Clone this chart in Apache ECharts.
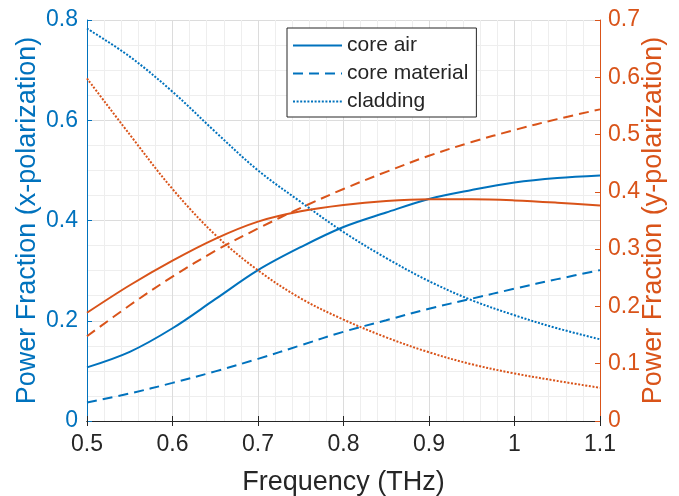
<!DOCTYPE html>
<html>
<head>
<meta charset="utf-8">
<script src="https://cdn.jsdelivr.net/npm/echarts@6/dist/echarts.min.js"></script>
<style>
html,body{margin:0;padding:0;background:#fff;}
#chart{width:679px;height:496px;}
</style>
</head>
<body>
<div id="chart"></div>
<script>
// Frequency (THz)
const freq = [0.5, 0.55, 0.6, 0.65, 0.7, 0.75, 0.8, 0.85, 0.9, 0.95, 1.0, 1.05, 1.1];
// x-polarization (left axis)
const xCoreAir      = [0.107, 0.138, 0.185, 0.243, 0.301, 0.347, 0.387, 0.416, 0.443, 0.461, 0.476, 0.485, 0.490];
const xCoreMaterial = [0.037, 0.055, 0.076, 0.099, 0.124, 0.151, 0.178, 0.201, 0.224, 0.244, 0.264, 0.283, 0.301];
const xCladding     = [0.783, 0.727, 0.657, 0.577, 0.500, 0.437, 0.377, 0.325, 0.279, 0.241, 0.211, 0.185, 0.163];
// y-polarization (right axis)
const yCoreAir      = [0.189, 0.237, 0.280, 0.318, 0.348, 0.366, 0.377, 0.384, 0.387, 0.387, 0.385, 0.381, 0.376];
const yCoreMaterial = [0.148, 0.202, 0.252, 0.297, 0.336, 0.372, 0.405, 0.435, 0.463, 0.487, 0.508, 0.527, 0.544];
const yCladding     = [0.598, 0.500, 0.405, 0.325, 0.263, 0.214, 0.177, 0.146, 0.120, 0.099, 0.083, 0.070, 0.058];

const legendNames = ['core air', 'core material', 'cladding'];

const BLUE = '#0072BD';
const ORANGE = '#D95319';
const DARK = '#262626';
const FONT = '"Liberation Sans", Arial, sans-serif';

const pairs = arr => freq.map((f, i) => [f, arr[i]]);
const fmt = v => String(+(+v).toFixed(2));

const dashStyles = {
  solid: 'solid',
  dashed: [10, 6],
  dotted: [2, 1.6]
};

function mkSeries(name, arr, color, dash, yIdx) {
  return {
    name: name,
    type: 'line',
    xAxisIndex: 0,
    yAxisIndex: yIdx,
    data: pairs(arr),
    smooth: 0.35,
    symbol: 'none',
    showSymbol: false,
    lineStyle: { color: color, width: 2, type: dashStyles[dash] },
    itemStyle: { color: color },
    z: 3
  };
}

const chart = echarts.init(document.getElementById('chart'), null, { renderer: 'canvas' });

const option = {
  animation: false,
  backgroundColor: '#fff',
  textStyle: { fontFamily: FONT },
  grid: { left: 87, right: 79, top: 20, bottom: 75, containLabel: false, outerBoundsMode: 'none' },
  legend: {
    data: legendNames,
    orient: 'vertical',
    left: 287,
    top: 28,
    itemWidth: 49,
    itemHeight: 14,
    itemGap: 7,
    padding: [7, 8, 5, 5],
    borderColor: DARK,
    borderWidth: 1,
    borderRadius: 0,
    backgroundColor: '#fff',
    itemStyle: { opacity: 0 },
    textStyle: { fontFamily: FONT, fontSize: 21, color: DARK },
    selectedMode: false
  },
  xAxis: [
    {
      type: 'value',
      position: 'bottom',
      min: 0.5, max: 1.1, interval: 0.1,
      name: 'Frequency (THz)',
      nameLocation: 'middle',
      nameGap: 48,
      nameTextStyle: { fontSize: 27, color: DARK, fontFamily: FONT },
      axisLine: { show: true, lineStyle: { color: DARK, width: 1 } },
      axisTick: { show: true, inside: true, length: 5, lineStyle: { color: DARK } },
      axisLabel: { fontSize: 23, color: DARK, margin: 12, formatter: fmt, fontFamily: FONT },
      splitLine: { show: true, lineStyle: { color: '#dcdcdc', width: 1 } },
      minorTick: { show: false, splitNumber: 5 },
      minorSplitLine: { show: true, lineStyle: { color: '#eeeeee', width: 1 } }
    },
    {
      type: 'value',
      position: 'top',
      min: 0.5, max: 1.1, interval: 0.1,
      axisLine: { show: true, lineStyle: { color: DARK, width: 1 } },
      axisTick: { show: true, inside: true, length: 5, lineStyle: { color: DARK } },
      axisLabel: { show: false },
      splitLine: { show: false }
    }
  ],
  yAxis: [
    {
      type: 'value',
      position: 'left',
      min: 0, max: 0.8, interval: 0.2,
      name: 'Power Fraction (x-polarization)',
      nameLocation: 'middle',
      nameGap: 46,
      nameMoveOverlap: false,
      nameTextStyle: { fontSize: 27, color: BLUE, fontFamily: FONT },
      axisLine: { show: true, lineStyle: { color: BLUE, width: 1 } },
      axisTick: { show: true, inside: true, length: 5, lineStyle: { color: BLUE } },
      axisLabel: { fontSize: 23, color: BLUE, margin: 9, formatter: fmt, fontFamily: FONT },
      splitLine: { show: true, lineStyle: { color: '#dcdcdc', width: 1 } },
      minorTick: { show: false, splitNumber: 4 },
      minorSplitLine: { show: true, lineStyle: { color: '#eeeeee', width: 1 } }
    },
    {
      type: 'value',
      position: 'right',
      min: 0, max: 0.7, interval: 0.1,
      name: 'Power Fraction (y-polarization)',
      nameLocation: 'middle',
      nameGap: 40,
      nameMoveOverlap: false,
      nameRotate: 90,
      nameTextStyle: { fontSize: 27, color: ORANGE, fontFamily: FONT },
      axisLine: { show: true, lineStyle: { color: ORANGE, width: 1 } },
      axisTick: { show: true, inside: true, length: 5, lineStyle: { color: ORANGE } },
      axisLabel: { fontSize: 23, color: ORANGE, margin: 8, formatter: fmt, fontFamily: FONT },
      splitLine: { show: false }
    }
  ],
  series: [
    mkSeries('core air', xCoreAir, BLUE, 'solid', 0),
    mkSeries('core material', xCoreMaterial, BLUE, 'dashed', 0),
    mkSeries('cladding', xCladding, BLUE, 'dotted', 0),
    mkSeries('core air (y)', yCoreAir, ORANGE, 'solid', 1),
    mkSeries('core material (y)', yCoreMaterial, ORANGE, 'dashed', 1),
    mkSeries('cladding (y)', yCladding, ORANGE, 'dotted', 1)
  ]
};

chart.setOption(option);
</script>
</body>
</html>
